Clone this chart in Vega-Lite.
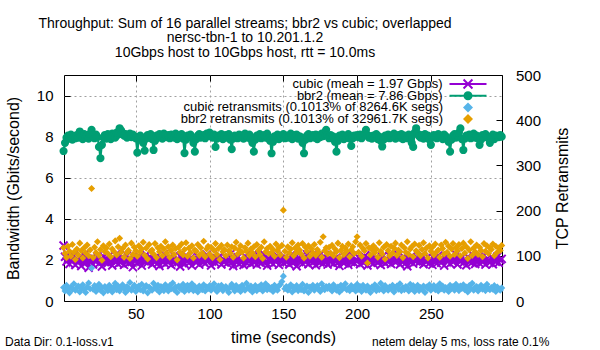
{
"$schema": "https://vega.github.io/schema/vega-lite/v6.json",
"width": 438, "height": 226,
"autosize": {"type": "none"},
"padding": {"left": 64, "top": 75, "right": 98, "bottom": 49},
"background": "white",
"config": {"font": "Liberation Sans", "view": {"stroke": "black", "strokeWidth": 1}, "axis": {"labelColor": "black", "titleColor": "black", "tickColor": "black", "domain": false, "tickWidth": 1},
  "legend": {"orient": "none", "title": null, "labelAlign": "right", "labelFontSize": 13, "labelColor": "black", "labelLimit": 400, "symbolSize": 100, "padding": 0}},
"title": {"text": ["Throughput: Sum of 16 parallel streams; bbr2 vs cubic; overlapped", "nersc-tbn-1 to 10.201.1.2", "10Gbps host to 10Gbps host, rtt = 10.0ms"], "fontSize": 14, "fontWeight": "normal", "color": "black", "lineHeight": 14.5, "anchor": "middle", "frame": "group", "dx": -38, "dy": 4, "offset": 9},
"data": {"values": [
{"t":1,"c":2.70,"b":7.30,"cr":30,"br":118},{"t":2,"c":2.15,"b":7.70,"cr":22,"br":105},{"t":3,"c":1.92,"b":7.95,"cr":35,"br":96},{"t":4,"c":2.05,"b":8.05,"cr":27,"br":121},{"t":5,"c":1.80,"b":7.90,"cr":18,"br":110},
{"t":6,"c":2.10,"b":8.10,"cr":31,"br":99},{"t":7,"c":1.95,"b":7.85,"cr":26,"br":125},{"t":8,"c":2.22,"b":8.00,"cr":38,"br":108},{"t":9,"c":1.75,"b":7.92,"cr":24,"br":92},{"t":10,"c":2.00,"b":8.08,"cr":29,"br":115},
{"t":11,"c":1.88,"b":7.95,"cr":33,"br":102},{"t":12,"c":2.12,"b":8.25,"cr":20,"br":128},{"t":13,"c":1.70,"b":8.05,"cr":28,"br":111},{"t":14,"c":1.98,"b":7.88,"cr":36,"br":95},{"t":15,"c":2.25,"b":8.12,"cr":25,"br":118},
{"t":16,"c":1.85,"b":7.98,"cr":19,"br":106},{"t":17,"c":2.03,"b":8.02,"cr":31,"br":124},{"t":18,"c":1.62,"b":7.90,"cr":40,"br":100},{"t":19,"c":1.95,"b":8.15,"cr":27,"br":113},{"t":20,"c":2.10,"b":8.33,"cr":73,"br":249},
{"t":21,"c":1.78,"b":8.05,"cr":26,"br":96},{"t":22,"c":2.05,"b":7.92,"cr":34,"br":119},{"t":23,"c":1.93,"b":8.10,"cr":21,"br":107},{"t":24,"c":2.18,"b":7.98,"cr":29,"br":131},{"t":25,"c":1.82,"b":7.50,"cr":37,"br":101},
{"t":26,"c":2.00,"b":6.95,"cr":24,"br":114},{"t":27,"c":1.68,"b":7.60,"cr":30,"br":90},{"t":28,"c":2.15,"b":7.95,"cr":18,"br":122},{"t":29,"c":1.90,"b":8.08,"cr":32,"br":109},{"t":30,"c":2.07,"b":7.90,"cr":27,"br":117},
{"t":31,"c":1.85,"b":8.12,"cr":23,"br":105},{"t":32,"c":2.20,"b":8.00,"cr":35,"br":126},{"t":33,"c":1.97,"b":7.88,"cr":28,"br":98},{"t":34,"c":1.73,"b":8.15,"cr":20,"br":115},{"t":35,"c":2.08,"b":8.05,"cr":31,"br":110},
{"t":36,"c":1.92,"b":7.95,"cr":39,"br":133},{"t":37,"c":2.30,"b":8.20,"cr":25,"br":102},{"t":38,"c":1.80,"b":8.10,"cr":33,"br":120},{"t":39,"c":2.02,"b":8.41,"cr":22,"br":139},{"t":40,"c":1.88,"b":8.30,"cr":30,"br":108},
{"t":41,"c":2.12,"b":8.18,"cr":36,"br":116},{"t":42,"c":1.76,"b":8.05,"cr":27,"br":97},{"t":43,"c":1.95,"b":8.12,"cr":19,"br":124},{"t":44,"c":2.22,"b":7.95,"cr":32,"br":107},{"t":45,"c":1.83,"b":8.08,"cr":26,"br":112},
{"t":46,"c":2.05,"b":8.15,"cr":41,"br":94},{"t":47,"c":1.90,"b":7.98,"cr":24,"br":128},{"t":48,"c":1.65,"b":8.10,"cr":30,"br":103},{"t":49,"c":2.10,"b":8.02,"cr":35,"br":119},{"t":50,"c":1.98,"b":7.92,"cr":21,"br":111},
{"t":51,"c":1.82,"b":7.22,"cr":28,"br":99},{"t":52,"c":2.15,"b":7.85,"cr":33,"br":122},{"t":53,"c":2.00,"b":8.05,"cr":25,"br":108},{"t":54,"c":1.72,"b":7.95,"cr":37,"br":115},{"t":55,"c":2.08,"b":7.70,"cr":22,"br":130},
{"t":56,"c":1.93,"b":7.32,"cr":29,"br":101},{"t":57,"c":2.25,"b":7.90,"cr":34,"br":117},{"t":58,"c":1.87,"b":8.08,"cr":18,"br":93},{"t":59,"c":1.98,"b":7.98,"cr":31,"br":125},{"t":60,"c":2.12,"b":8.12,"cr":27,"br":110},
{"t":61,"c":1.78,"b":7.88,"cr":24,"br":113},{"t":62,"c":2.03,"b":7.35,"cr":39,"br":104},{"t":63,"c":1.90,"b":7.80,"cr":30,"br":127},{"t":64,"c":2.18,"b":8.05,"cr":26,"br":96},{"t":65,"c":1.85,"b":7.95,"cr":35,"br":118},
{"t":66,"c":1.70,"b":8.12,"cr":20,"br":109},{"t":67,"c":2.07,"b":8.00,"cr":32,"br":121},{"t":68,"c":1.95,"b":7.90,"cr":28,"br":100},{"t":69,"c":2.28,"b":8.15,"cr":23,"br":115},{"t":70,"c":1.80,"b":8.05,"cr":36,"br":131},
{"t":71,"c":2.00,"b":7.98,"cr":29,"br":106},{"t":72,"c":1.88,"b":8.08,"cr":22,"br":120},{"t":73,"c":2.13,"b":7.92,"cr":34,"br":97},{"t":74,"c":1.75,"b":8.10,"cr":27,"br":112},{"t":75,"c":1.97,"b":8.02,"cr":40,"br":124},
{"t":76,"c":2.20,"b":7.95,"cr":25,"br":103},{"t":77,"c":1.83,"b":8.15,"cr":31,"br":116},{"t":78,"c":2.05,"b":7.88,"cr":19,"br":91},{"t":79,"c":1.92,"b":8.05,"cr":33,"br":119},{"t":80,"c":1.68,"b":8.00,"cr":28,"br":108},
{"t":81,"c":2.10,"b":8.12,"cr":26,"br":126},{"t":82,"c":1.93,"b":7.90,"cr":37,"br":102},{"t":83,"c":1.80,"b":7.20,"cr":21,"br":114},{"t":84,"c":2.22,"b":7.85,"cr":30,"br":129},{"t":85,"c":1.98,"b":8.05,"cr":35,"br":99},
{"t":86,"c":1.85,"b":7.98,"cr":24,"br":117},{"t":87,"c":2.08,"b":8.10,"cr":28,"br":107},{"t":88,"c":1.72,"b":7.95,"cr":38,"br":122},{"t":89,"c":2.03,"b":7.70,"cr":23,"br":95},{"t":90,"c":1.95,"b":7.27,"cr":32,"br":113},
{"t":91,"c":1.87,"b":7.88,"cr":27,"br":110},{"t":92,"c":2.17,"b":8.05,"cr":20,"br":125},{"t":93,"c":1.77,"b":8.12,"cr":33,"br":101},{"t":94,"c":2.00,"b":7.95,"cr":29,"br":118},{"t":95,"c":2.12,"b":8.00,"cr":25,"br":106},
{"t":96,"c":1.90,"b":8.08,"cr":36,"br":132},{"t":97,"c":1.82,"b":7.92,"cr":22,"br":98},{"t":98,"c":2.25,"b":8.15,"cr":31,"br":115},{"t":99,"c":1.95,"b":8.05,"cr":28,"br":121},{"t":100,"c":2.05,"b":8.20,"cr":34,"br":104},
{"t":101,"c":1.73,"b":8.02,"cr":24,"br":119},{"t":102,"c":1.98,"b":7.95,"cr":30,"br":96},{"t":103,"c":2.15,"b":8.10,"cr":38,"br":112},{"t":104,"c":1.85,"b":7.50,"cr":26,"br":127},{"t":105,"c":2.07,"b":7.90,"cr":21,"br":103},
{"t":106,"c":1.93,"b":8.05,"cr":33,"br":116},{"t":107,"c":2.20,"b":7.98,"cr":29,"br":92},{"t":108,"c":1.78,"b":8.12,"cr":35,"br":123},{"t":109,"c":2.02,"b":7.88,"cr":23,"br":109},{"t":110,"c":1.90,"b":8.00,"cr":27,"br":114},
{"t":111,"c":2.10,"b":8.08,"cr":32,"br":100},{"t":112,"c":1.83,"b":7.95,"cr":25,"br":124},{"t":113,"c":1.97,"b":8.12,"cr":19,"br":111},{"t":114,"c":2.28,"b":7.85,"cr":31,"br":106},{"t":115,"c":1.88,"b":7.39,"cr":37,"br":120},
{"t":116,"c":1.70,"b":7.90,"cr":28,"br":97},{"t":117,"c":2.05,"b":8.05,"cr":22,"br":117},{"t":118,"c":1.95,"b":8.00,"cr":34,"br":130},{"t":119,"c":2.13,"b":7.92,"cr":26,"br":104},{"t":120,"c":1.80,"b":8.10,"cr":30,"br":113},
{"t":121,"c":2.00,"b":7.98,"cr":21,"br":122},{"t":122,"c":1.92,"b":8.05,"cr":35,"br":108},{"t":123,"c":1.75,"b":7.90,"cr":28,"br":95},{"t":124,"c":2.18,"b":8.15,"cr":24,"br":118},{"t":125,"c":1.86,"b":8.02,"cr":39,"br":110},
{"t":126,"c":2.04,"b":7.95,"cr":30,"br":128},{"t":127,"c":1.96,"b":8.10,"cr":26,"br":101},{"t":128,"c":1.81,"b":7.88,"cr":33,"br":115},{"t":129,"c":2.23,"b":7.70,"cr":20,"br":107},{"t":130,"c":1.90,"b":7.27,"cr":29,"br":120},
{"t":131,"c":2.08,"b":7.85,"cr":34,"br":98},{"t":132,"c":1.77,"b":8.05,"cr":23,"br":125},{"t":133,"c":1.99,"b":7.98,"cr":31,"br":112},{"t":134,"c":2.14,"b":8.12,"cr":27,"br":103},{"t":135,"c":1.84,"b":7.92,"cr":36,"br":119},
{"t":136,"c":1.95,"b":8.00,"cr":22,"br":94},{"t":137,"c":2.26,"b":8.08,"cr":29,"br":131},{"t":138,"c":1.89,"b":7.95,"cr":38,"br":109},{"t":139,"c":1.72,"b":8.15,"cr":25,"br":116},{"t":140,"c":2.06,"b":7.90,"cr":32,"br":105},
{"t":141,"c":1.94,"b":7.80,"cr":26,"br":121},{"t":142,"c":2.11,"b":7.19,"cr":30,"br":107},{"t":143,"c":1.80,"b":7.75,"cr":21,"br":114},{"t":144,"c":2.02,"b":8.02,"cr":35,"br":99},{"t":145,"c":1.91,"b":7.95,"cr":28,"br":126},
{"t":146,"c":2.19,"b":8.10,"cr":24,"br":111},{"t":147,"c":1.76,"b":7.88,"cr":33,"br":118},{"t":148,"c":2.04,"b":8.05,"cr":37,"br":102},{"t":149,"c":1.97,"b":7.98,"cr":43,"br":123},{"t":150,"c":1.85,"b":8.12,"cr":55,"br":201},
{"t":151,"c":2.13,"b":7.92,"cr":27,"br":110},{"t":152,"c":1.90,"b":8.05,"cr":32,"br":97},{"t":153,"c":2.00,"b":7.95,"cr":24,"br":120},{"t":154,"c":1.78,"b":8.00,"cr":29,"br":106},{"t":155,"c":2.22,"b":8.15,"cr":36,"br":115},
{"t":156,"c":1.87,"b":7.88,"cr":20,"br":129},{"t":157,"c":2.05,"b":8.08,"cr":31,"br":100},{"t":158,"c":1.93,"b":7.98,"cr":26,"br":117},{"t":159,"c":1.69,"b":8.10,"cr":34,"br":108},{"t":160,"c":2.09,"b":7.90,"cr":23,"br":124},
{"t":161,"c":1.96,"b":8.02,"cr":30,"br":113},{"t":162,"c":2.16,"b":7.95,"cr":25,"br":104},{"t":163,"c":1.82,"b":7.70,"cr":37,"br":127},{"t":164,"c":2.03,"b":7.19,"cr":22,"br":95},{"t":165,"c":1.91,"b":7.85,"cr":28,"br":119},
{"t":166,"c":2.27,"b":8.05,"cr":33,"br":110},{"t":167,"c":1.79,"b":8.12,"cr":19,"br":122},{"t":168,"c":1.99,"b":7.92,"cr":31,"br":99},{"t":169,"c":2.10,"b":8.00,"cr":27,"br":116},{"t":170,"c":1.86,"b":8.08,"cr":35,"br":107},
{"t":171,"c":2.04,"b":7.95,"cr":24,"br":125},{"t":172,"c":1.74,"b":8.10,"cr":29,"br":101},{"t":173,"c":1.95,"b":7.88,"cr":34,"br":114},{"t":174,"c":2.20,"b":8.05,"cr":26,"br":108},{"t":175,"c":1.88,"b":7.98,"cr":21,"br":130},
{"t":176,"c":2.01,"b":8.15,"cr":38,"br":97},{"t":177,"c":1.83,"b":8.02,"cr":30,"br":142},{"t":178,"c":2.14,"b":8.20,"cr":25,"br":111},{"t":179,"c":1.92,"b":8.33,"cr":32,"br":118},{"t":180,"c":1.77,"b":8.05,"cr":28,"br":104},
{"t":181,"c":2.07,"b":7.92,"cr":33,"br":119},{"t":182,"c":1.93,"b":8.08,"cr":27,"br":106},{"t":183,"c":2.24,"b":7.95,"cr":22,"br":123},{"t":184,"c":1.81,"b":8.00,"cr":36,"br":100},{"t":185,"c":1.98,"b":7.75,"cr":29,"br":115},
{"t":186,"c":2.11,"b":7.27,"cr":24,"br":109},{"t":187,"c":1.87,"b":7.80,"cr":31,"br":128},{"t":188,"c":1.71,"b":8.05,"cr":20,"br":96},{"t":189,"c":2.03,"b":7.98,"cr":35,"br":112},{"t":190,"c":1.95,"b":8.10,"cr":26,"br":121},
{"t":191,"c":1.84,"b":7.88,"cr":30,"br":103},{"t":192,"c":2.15,"b":8.02,"cr":38,"br":117},{"t":193,"c":1.97,"b":7.95,"cr":25,"br":110},{"t":194,"c":1.76,"b":8.12,"cr":28,"br":126},{"t":195,"c":2.08,"b":7.90,"cr":23,"br":98},
{"t":196,"c":1.90,"b":7.55,"cr":34,"br":113},{"t":197,"c":2.21,"b":7.92,"cr":27,"br":120},{"t":198,"c":1.85,"b":8.05,"cr":31,"br":105},{"t":199,"c":2.00,"b":8.00,"cr":22,"br":131},{"t":200,"c":1.93,"b":8.08,"cr":37,"br":142},
{"t":201,"c":2.12,"b":7.98,"cr":26,"br":108},{"t":202,"c":1.79,"b":8.10,"cr":32,"br":124},{"t":203,"c":2.02,"b":7.92,"cr":21,"br":99},{"t":204,"c":1.89,"b":8.05,"cr":35,"br":116},{"t":205,"c":2.18,"b":8.15,"cr":29,"br":111},
{"t":206,"c":1.96,"b":8.33,"cr":24,"br":127},{"t":207,"c":1.73,"b":8.08,"cr":33,"br":84},{"t":208,"c":2.06,"b":7.95,"cr":28,"br":118},{"t":209,"c":1.91,"b":8.02,"cr":19,"br":102},{"t":210,"c":2.23,"b":7.90,"cr":31,"br":114},
{"t":211,"c":1.82,"b":8.05,"cr":27,"br":122},{"t":212,"c":1.99,"b":7.98,"cr":36,"br":107},{"t":213,"c":2.09,"b":8.12,"cr":23,"br":115},{"t":214,"c":1.86,"b":7.88,"cr":30,"br":97},{"t":215,"c":2.01,"b":8.00,"cr":25,"br":129},
{"t":216,"c":1.75,"b":7.80,"cr":39,"br":110},{"t":217,"c":2.16,"b":7.52,"cr":28,"br":104},{"t":218,"c":1.94,"b":7.85,"cr":22,"br":119},{"t":219,"c":1.83,"b":8.05,"cr":34,"br":93},{"t":220,"c":2.05,"b":7.95,"cr":29,"br":125},
{"t":221,"c":1.92,"b":8.10,"cr":24,"br":112},{"t":222,"c":2.20,"b":7.92,"cr":31,"br":100},{"t":223,"c":1.80,"b":8.05,"cr":27,"br":121},{"t":224,"c":2.00,"b":7.98,"cr":35,"br":106},{"t":225,"c":2.11,"b":8.15,"cr":20,"br":117},
{"t":226,"c":1.88,"b":7.90,"cr":29,"br":128},{"t":227,"c":1.97,"b":8.02,"cr":33,"br":101},{"t":228,"c":2.25,"b":8.08,"cr":26,"br":113},{"t":229,"c":1.78,"b":7.95,"cr":38,"br":109},{"t":230,"c":2.04,"b":8.12,"cr":23,"br":124},
{"t":231,"c":1.90,"b":7.88,"cr":30,"br":96},{"t":232,"c":2.13,"b":8.05,"cr":25,"br":118},{"t":233,"c":1.85,"b":8.00,"cr":32,"br":108},{"t":234,"c":1.69,"b":7.92,"cr":28,"br":131},{"t":235,"c":2.07,"b":8.10,"cr":22,"br":103},
{"t":236,"c":1.95,"b":7.98,"cr":37,"br":115},{"t":237,"c":2.19,"b":7.70,"cr":27,"br":120},{"t":238,"c":1.82,"b":7.50,"cr":34,"br":98},{"t":239,"c":2.02,"b":8.20,"cr":21,"br":126},{"t":240,"c":1.93,"b":8.41,"cr":29,"br":111},
{"t":241,"c":2.10,"b":8.15,"cr":35,"br":107},{"t":242,"c":1.87,"b":8.02,"cr":23,"br":123},{"t":243,"c":1.98,"b":7.95,"cr":30,"br":100},{"t":244,"c":2.24,"b":8.08,"cr":26,"br":114},{"t":245,"c":1.79,"b":7.90,"cr":33,"br":129},
{"t":246,"c":2.03,"b":8.12,"cr":19,"br":105},{"t":247,"c":1.91,"b":7.98,"cr":31,"br":117},{"t":248,"c":2.15,"b":8.05,"cr":28,"br":95},{"t":249,"c":1.84,"b":7.85,"cr":36,"br":122},{"t":250,"c":2.00,"b":7.60,"cr":24,"br":110},
{"t":251,"c":1.76,"b":7.95,"cr":29,"br":119},{"t":252,"c":2.09,"b":8.08,"cr":34,"br":102},{"t":253,"c":1.94,"b":8.00,"cr":25,"br":126},{"t":254,"c":1.83,"b":7.92,"cr":31,"br":109},{"t":255,"c":2.21,"b":8.12,"cr":22,"br":113},
{"t":256,"c":1.97,"b":7.98,"cr":38,"br":97},{"t":257,"c":1.86,"b":8.05,"cr":27,"br":124},{"t":258,"c":2.06,"b":7.88,"cr":33,"br":116},{"t":259,"c":1.72,"b":8.10,"cr":24,"br":104},{"t":260,"c":2.12,"b":8.02,"cr":30,"br":130},
{"t":261,"c":1.95,"b":7.90,"cr":26,"br":108},{"t":262,"c":2.02,"b":7.75,"cr":21,"br":121},{"t":263,"c":1.81,"b":7.27,"cr":35,"br":99},{"t":264,"c":2.17,"b":7.85,"cr":28,"br":115},{"t":265,"c":1.90,"b":8.05,"cr":32,"br":127},
{"t":266,"c":1.99,"b":8.12,"cr":24,"br":103},{"t":267,"c":2.26,"b":7.95,"cr":37,"br":118},{"t":268,"c":1.78,"b":8.08,"cr":29,"br":111},{"t":269,"c":2.05,"b":8.20,"cr":23,"br":125},{"t":270,"c":1.93,"b":8.40,"cr":33,"br":100},
{"t":271,"c":2.11,"b":7.88,"cr":28,"br":116},{"t":272,"c":1.85,"b":7.35,"cr":36,"br":128},{"t":273,"c":2.00,"b":7.90,"cr":25,"br":106},{"t":274,"c":1.74,"b":8.05,"cr":31,"br":120},{"t":275,"c":2.14,"b":7.98,"cr":20,"br":94},
{"t":276,"c":1.92,"b":8.10,"cr":34,"br":113},{"t":277,"c":2.03,"b":7.92,"cr":27,"br":131},{"t":278,"c":1.88,"b":8.02,"cr":39,"br":101},{"t":279,"c":2.19,"b":8.15,"cr":24,"br":117},{"t":280,"c":1.80,"b":7.95,"cr":30,"br":109},
{"t":281,"c":1.97,"b":8.05,"cr":32,"br":124},{"t":282,"c":2.08,"b":7.90,"cr":22,"br":103},{"t":283,"c":1.83,"b":7.60,"cr":29,"br":119},{"t":284,"c":2.01,"b":7.85,"cr":35,"br":112},{"t":285,"c":1.90,"b":8.08,"cr":26,"br":98},
{"t":286,"c":2.23,"b":7.98,"cr":31,"br":127},{"t":287,"c":1.77,"b":8.12,"cr":23,"br":110},{"t":288,"c":2.06,"b":8.00,"cr":37,"br":122},{"t":289,"c":1.94,"b":7.92,"cr":28,"br":105},{"t":290,"c":1.87,"b":7.70,"cr":25,"br":118},
{"t":291,"c":2.12,"b":7.95,"cr":30,"br":114},{"t":292,"c":1.79,"b":8.10,"cr":26,"br":126},{"t":293,"c":2.02,"b":7.88,"cr":34,"br":100},{"t":294,"c":1.91,"b":8.05,"cr":21,"br":121},{"t":295,"c":2.16,"b":8.02,"cr":31,"br":108},
{"t":296,"c":1.86,"b":7.98,"cr":27,"br":117},{"t":297,"c":1.99,"b":8.08,"cr":24,"br":112},{"t":298,"c":2.05,"b":8.00,"cr":29,"br":123}
]},
"layer": [
 {
  "layer": [
   {
    "mark": {"type": "line", "strokeWidth": 2, "point": {"shape": "M-1,-1L1,1M-1,1L1,-1", "filled": false, "size": 64, "strokeWidth": 2}},
    "encoding": {
     "x": {"field": "t", "type": "quantitative", "scale": {"domain": [1.3, 298.2], "nice": false, "zero": false},
       "axis": {"values": [50, 100, 150, 200, 250], "grid": true, "gridDash": [2, 3], "gridColor": "#a0a0a0", "tickSize": -6, "labelFontSize": 15, "labelPadding": 11, "labelFlush": false, "title": "time (seconds)", "titleFontSize": 16, "titleFontWeight": "normal", "titleY": 41, "titleBaseline": "alphabetic"}},
     "y": {"field": "c", "type": "quantitative", "scale": {"domain": [0, 11], "nice": false},
       "axis": {"values": [0, 2, 4, 6, 8, 10], "grid": true, "gridDash": [2, 3], "gridColor": "#a0a0a0", "gridOpacity": {"condition": {"test": "datum.value == 0", "value": 0}, "value": 1}, "tickSize": -6, "labelFontSize": 15, "labelPadding": 17, "labelFlush": false, "title": "Bandwidth (Gbits/second)", "titleFontSize": 16, "titleFontWeight": "normal", "titleX": -51, "titleY": 113, "titleAngle": 270, "titleAlign": "center", "titleBaseline": "middle"}},
     "color": {"datum": "cubic (mean = 1.97 Gbps)", "type": "nominal", "scale": {"range": ["#9400D3"]},
       "legend": {"legendX": 384.5, "legendY": -10.5, "labelOffset": -45, "encode": {"symbols": {"update": {"shape": {"value": "M-1,0H1M-0.24,-0.24L0.24,0.24M-0.24,0.24L0.24,-0.24"}, "size": {"value": 1369}, "fill": {"value": "transparent"}, "stroke": {"value": "#9400D3"}, "strokeWidth": {"value": 2}, "opacity": {"value": 1}}}}}}
    }
   },
   {
    "mark": {"type": "line", "strokeWidth": 2, "color": "#009E73", "point": {"shape": "circle", "filled": true, "size": 38, "color": "#009E73"}},
    "encoding": {
     "x": {"field": "t", "type": "quantitative", "axis": {"orient": "top", "values": [50, 100, 150, 200, 250], "labels": false, "grid": false, "tickSize": -6, "title": null}},
     "y": {"field": "b", "type": "quantitative"},
     "stroke": {"datum": "bbr2 (mean = 7.86 Gbps)", "type": "nominal", "scale": {"range": ["#009E73"]},
       "legend": {"legendX": 384.5, "legendY": 1.2, "labelOffset": -45, "encode": {"symbols": {"update": {"shape": {"value": "M-1,0H1M0.19,0A0.19,0.19 0 1,1 -0.19,0A0.19,0.19 0 1,1 0.19,0Z"}, "size": {"value": 1369}, "fill": {"value": "#009E73"}, "stroke": {"value": "#009E73"}, "strokeWidth": {"value": 2}, "opacity": {"value": 1}}}}}}
    }
   }
  ],
  "resolve": {"axis": {"x": "independent"}}
 },
 {
  "layer": [
   {
    "mark": {"type": "point", "shape": "diamond", "filled": true, "size": 50, "opacity": 1, "color": "#56B4E9"},
    "encoding": {
     "x": {"field": "t", "type": "quantitative", "axis": {"orient": "bottom", "labels": false, "ticks": false, "grid": false, "title": "Data Dir: 0.1-loss.v1", "titleFontSize": 12, "titleFontWeight": "normal", "titleX": -59.5, "titleY": 44, "titleAlign": "left", "titleAnchor": "start", "titleBaseline": "alphabetic"}},
     "y": {"field": "cr", "type": "quantitative", "scale": {"domain": [0, 500], "nice": false},
       "axis": {"orient": "right", "values": [0, 100, 200, 300, 400, 500], "grid": false, "tickSize": -6, "labelFontSize": 15, "labelPadding": 19.5, "labelFlush": false, "title": "TCP Retransmits", "titleFontSize": 16, "titleFontWeight": "normal", "titleX": 60, "titleY": 113, "titleAngle": 270, "titleAlign": "center", "titleBaseline": "middle"}},
     "fill": {"datum": "cubic retransmits (0.1013% of 8264.6K segs)", "type": "nominal", "scale": {"range": ["#56B4E9"]},
       "legend": {"legendX": 397.5, "legendY": 25.9, "labelOffset": -31.5, "encode": {"symbols": {"update": {"shape": {"value": "M0,-0.2L0.2,0L0,0.2L-0.2,0Z"}, "size": {"value": 1369}, "fill": {"value": "#56B4E9"}, "stroke": {"value": "#56B4E9"}, "strokeWidth": {"value": 1}, "opacity": {"value": 1}}}}}}
    }
   },
   {
    "mark": {"type": "point", "filled": true, "size": 50, "opacity": 1, "color": "#E69F00"},
    "encoding": {
     "x": {"field": "t", "type": "quantitative", "axis": {"orient": "bottom", "labels": false, "ticks": false, "grid": false, "title": "netem delay 5 ms, loss rate 0.1%", "titleFontSize": 12, "titleFontWeight": "normal", "titleX": 307.5, "titleY": 44, "titleAlign": "left", "titleAnchor": "start", "titleBaseline": "alphabetic"}},
     "y": {"field": "br", "type": "quantitative"},
     "shape": {"datum": "bbr2 retransmits (0.1013% of 32961.7K segs)", "type": "nominal", "scale": {"range": ["diamond"]},
       "legend": {"legendX": 397.5, "legendY": 37.5, "labelOffset": -31.5, "encode": {"symbols": {"update": {"shape": {"value": "M0,-0.2L0.2,0L0,0.2L-0.2,0Z"}, "size": {"value": 1369}, "fill": {"value": "#E69F00"}, "stroke": {"value": "#E69F00"}, "strokeWidth": {"value": 1}, "opacity": {"value": 1}}}}}}
    }
   }
  ],
  "resolve": {"axis": {"x": "independent"}}
 }
],
"resolve": {"scale": {"y": "independent"}, "axis": {"x": "independent"}}
}
